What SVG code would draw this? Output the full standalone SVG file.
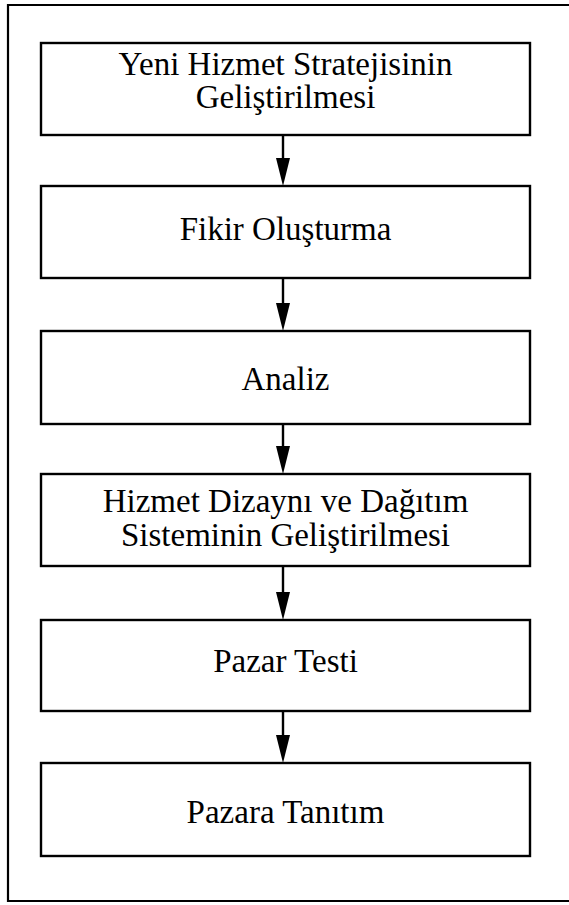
<svg xmlns="http://www.w3.org/2000/svg" width="569" height="905" viewBox="0 0 569 905">
  <style>
    .frame { fill: none; stroke: #000; stroke-width: 2.2; }
    .box { fill: #fff; stroke: #000; stroke-width: 2.4; }
    .lbl { font-family: "Liberation Serif", "Times New Roman", serif; font-size: 33px; fill: #000; text-anchor: middle; }
    .edge { stroke: #000; stroke-width: 2.4; fill: none; }
    .head { fill: #000; stroke: none; }
  </style>
  <rect width="569" height="905" fill="#fff"/>
  <!-- outer frame, right side runs off the page -->
  <path class="frame" d="M 575 5 H 8 V 901 H 575"/>

  <g id="connectors">
    <line class="edge" x1="283" y1="135" x2="283" y2="160"/>
    <polygon class="head" points="276,158 290,158 283,186"/>
    <line class="edge" x1="283" y1="278" x2="283" y2="305"/>
    <polygon class="head" points="276,303 290,303 283,331"/>
    <line class="edge" x1="283" y1="424" x2="283" y2="448"/>
    <polygon class="head" points="276,446 290,446 283,474"/>
    <line class="edge" x1="283" y1="566" x2="283" y2="594"/>
    <polygon class="head" points="276,592 290,592 283,620"/>
    <line class="edge" x1="283" y1="711" x2="283" y2="737"/>
    <polygon class="head" points="276,735 290,735 283,763"/>
  </g>

  <g id="strategy">
    <rect class="box" x="41" y="43" width="489" height="92"/>
    <text class="lbl" x="285.5" y="75">Yeni Hizmet Stratejisinin</text>
    <text class="lbl" x="285.5" y="108">Geliştirilmesi</text>
  </g>
  <g id="ideas">
    <rect class="box" x="41" y="186" width="489" height="92"/>
    <text class="lbl" x="285.5" y="240">Fikir Oluşturma</text>
  </g>
  <g id="analysis">
    <rect class="box" x="41" y="331" width="489" height="93"/>
    <text class="lbl" x="285.5" y="390">Analiz</text>
  </g>
  <g id="design">
    <rect class="box" x="41" y="474" width="489" height="92"/>
    <text class="lbl" x="285.5" y="512">Hizmet Dizaynı ve Dağıtım</text>
    <text class="lbl" x="285.5" y="546">Sisteminin Geliştirilmesi</text>
  </g>
  <g id="market-test">
    <rect class="box" x="41" y="620" width="489" height="91"/>
    <text class="lbl" x="285.5" y="672">Pazar Testi</text>
  </g>
  <g id="launch">
    <rect class="box" x="41" y="763" width="489" height="93"/>
    <text class="lbl" x="285.5" y="823">Pazara Tanıtım</text>
  </g>
</svg>
